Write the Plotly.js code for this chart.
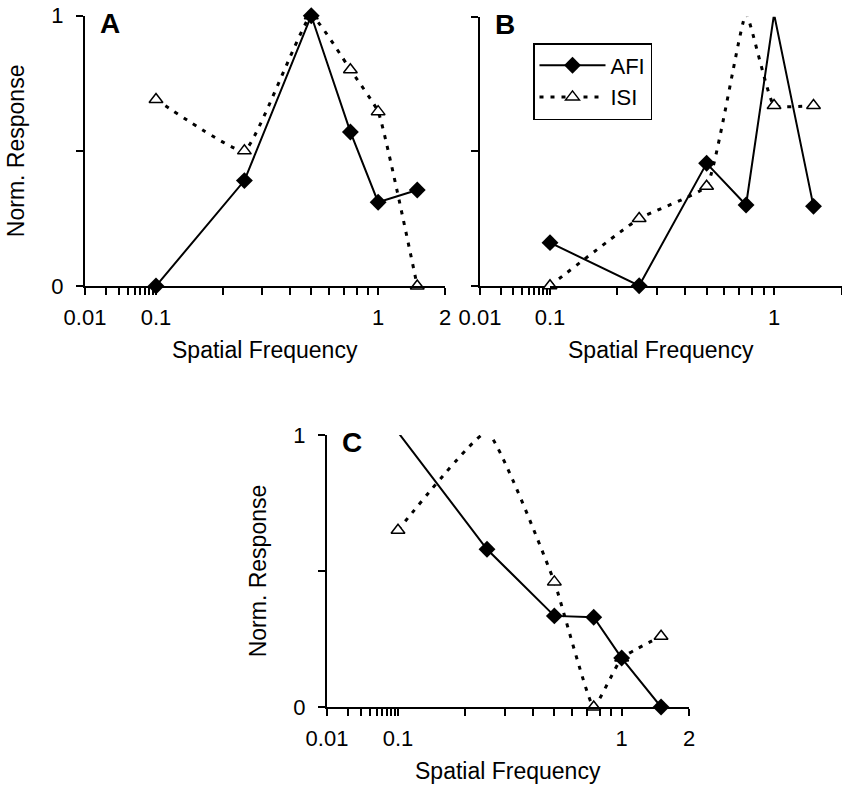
<!DOCTYPE html>
<html>
<head>
<meta charset="utf-8">
<script src="https://cdn.plot.ly/plotly-3.0.1.min.js"></script>
<style>html,body{margin:0;padding:0;background:#fff;}#chart{width:842px;height:790px;}</style>
</head>
<body>
<div id="chart"></div>
<script>
// ---- data ----
const freq = [0.1, 0.25, 0.5, 0.75, 1, 1.5];
const afiA = [0, 0.39, 1.0, 0.57, 0.31, 0.355];
const isiA = [0.69, 0.50, 1.0, 0.80, 0.645, 0];
const afiB = [0.16, 0, 0.455, 0.30, 1.01, 0.295];
const isiB = [0, 0.25, 0.37, 1.01, 0.67, 0.67];
const afiC = [1.01, 0.58, 0.335, 0.33, 0.18, 0];
const isiC = [0.65, 1.01, 0.46, 0, 0.18, 0.26];

const panelLetters = ['A', 'B', 'C'];
const seriesNames = ['AFI', 'ISI'];
const xTitle = 'Spatial Frequency';
const yTitle = 'Norm. Response';

const yTickVals = [0, 0.5, 1];
const yTickText = ['0', '', '1'];
const stubTickVals = [0.01, 0.02, 0.03, 0.04, 0.05, 0.06, 0.07, 0.08, 0.09];
const stubTickText = ['0.01', '', '', '', '', '', '', '', ''];
const mainTickVals = [0.1, 0.2, 0.3, 0.4, 0.5, 0.6, 0.7, 0.8, 0.9, 1, 2];
const mainTickText = ['0.1', '', '', '', '', '', '', '', '', '1', '2'];

// ---- geometry (pixels) ----
const W = 842, H = 790;
const FONT = 'Liberation Sans, Arial, sans-serif';
const panels = [
  {afi: afiA, isi: isiA, yx: 85, x01: 156, x2: 445, yTop: 15.7, yBot: 286, yLabels: true, legend: false},
  {afi: afiB, isi: isiB, yx: 480, x01: 550, x2: 841.5, yTop: 16.7, yBot: 285.7, yLabels: false, legend: true},
  {afi: afiC, isi: isiC, yx: 327, x01: 398, x2: 689, yTop: 435, yBot: 707, yLabels: true, legend: false}
];

const px = v => v / W;
const py = v => 1 - v / H;

const traces = [];
const layout = {
  width: W, height: H,
  margin: {l: 0, r: 0, t: 0, b: 0},
  paper_bgcolor: '#fff', plot_bgcolor: 'rgba(0,0,0,0)',
  font: {family: FONT, size: 22, color: '#000'},
  showlegend: true,
  legend: {
    x: px(533), y: py(43), xanchor: 'left', yanchor: 'top',
    bgcolor: '#fff', bordercolor: '#000', borderwidth: 1.5,
    font: {family: FONT, size: 22, color: '#000'},
    itemwidth: 66, tracegroupgap: 0
  },
  annotations: []
};

const axisCommon = {
  showline: true, linecolor: '#000', linewidth: 2,
  ticks: 'outside', ticklen: 7, tickwidth: 2, tickcolor: '#000',
  showgrid: false, zeroline: false, fixedrange: true,
  tickfont: {family: FONT, size: 22, color: '#000'}
};

panels.forEach((p, i) => {
  const sId = 2 * i + 1, mId = 2 * i + 2, yId = i + 1;
  const sName = 'xaxis' + (sId === 1 ? '' : sId);
  const mName = 'xaxis' + mId;
  const yName = 'yaxis' + (yId === 1 ? '' : yId);
  const yRef = 'y' + (yId === 1 ? '' : yId);
  const sRef = 'x' + (sId === 1 ? '' : sId);
  const mRef = 'x' + mId;
  const yDom = [py(p.yBot), py(p.yTop)];

  layout[sName] = Object.assign({}, axisCommon, {
    type: 'log', range: [-2, -1], domain: [px(p.yx), px(p.x01)], anchor: yRef,
    tickmode: 'array', tickvals: stubTickVals, ticktext: stubTickText, ticklabelstandoff: 4
  });
  layout[mName] = Object.assign({}, axisCommon, {
    type: 'log', range: [-1, Math.log10(2)], domain: [px(p.x01), px(p.x2)], anchor: yRef,
    tickmode: 'array', tickvals: mainTickVals, ticktext: mainTickText, ticklabelstandoff: 4
  });
  layout[yName] = Object.assign({}, axisCommon, {
    range: [0, 1], domain: yDom, anchor: sRef,
    tickmode: 'array', tickvals: yTickVals,
    ticktext: p.yLabels ? yTickText : ['', '', ''],
    ticklabelstandoff: 8,
    title: p.yLabels ? {text: yTitle, font: {family: FONT, size: 23, color: '#000'}, standoff: 20} : {text: ''}
  });

  // empty trace so the left (0.01–0.1) axis segment gets its own subplot
  traces.push({
    x: [], y: [], xaxis: sRef, yaxis: yRef, type: 'scatter', mode: 'markers',
    showlegend: false, hoverinfo: 'skip'
  });

  traces.push({
    x: freq, y: p.isi, xaxis: mRef, yaxis: yRef, name: seriesNames[1],
    type: 'scatter', mode: 'lines+markers', cliponaxis: false,
    showlegend: p.legend, legendrank: 2,
    line: {color: '#000', width: 3, dash: '4px,7px', shape: 'spline', smoothing: 0.35},
    marker: {symbol: 'triangle-up', size: 12, color: '#fff', line: {color: '#000', width: 1.5}}
  });
  traces.push({
    x: freq, y: p.afi, xaxis: mRef, yaxis: yRef, name: seriesNames[0],
    type: 'scatter', mode: 'lines+markers', cliponaxis: false,
    showlegend: p.legend, legendrank: 1,
    line: {color: '#000', width: 2},
    marker: {symbol: 'diamond', size: 13, color: '#000', line: {color: '#000', width: 0}}
  });

  layout.annotations.push({
    text: xTitle, xref: 'paper', yref: 'paper',
    x: px((p.yx + p.x2) / 2), y: py(p.yBot + 64), xanchor: 'center', yanchor: 'middle',
    showarrow: false, font: {family: FONT, size: 23, color: '#000'}
  });
  layout.annotations.push({
    text: '<b>' + panelLetters[i] + '</b>', xref: 'paper', yref: 'paper',
    x: px(p.yx + 13), y: py(p.yTop - 10), xanchor: 'left', yanchor: 'top',
    showarrow: false, font: {family: FONT, size: 28, color: '#000'}
  });
});

Plotly.newPlot('chart', traces, layout, {staticPlot: true});
</script>
</body>
</html>
